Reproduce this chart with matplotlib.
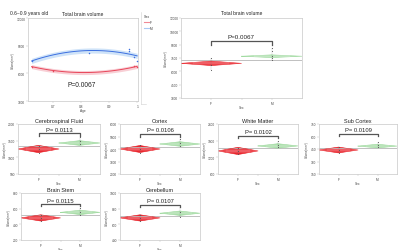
import numpy as np
import matplotlib
matplotlib.use('Agg')
import matplotlib.pyplot as plt
from matplotlib.lines import Line2D

plt.rcParams['font.family'] = ['Liberation Sans', 'DejaVu Sans']

# 나이에 따른 전체 뇌 부피 (산점도)
age_f = [0.625, 0.70, 0.99, 1.0]
vol_f = [6740, 6300, 6780, 6670]
age_m = [0.625, 0.83, 0.97, 0.97, 0.99, 1.0]
vol_m = [7390, 8220, 8650, 8470, 7750, 7390]
band_f = 220
band_m = 280
p_age = 'P=0.0067'

# 성별 전체 뇌 부피
tbv_f_mean = 6900
tbv_m_mean = 7700
tbv_grand = 7300
tbv_f_ci = 250
tbv_m_ci = 150
tbv_f_pts = [7500, 6700, 6200]
tbv_m_pts = [8600, 8300, 7700, 7500, 7300]
tbv_bracket = 9400
p_tbv = 'P=0.0067'

# 영역별 부피
names = ['Cerebrospinal Fluid', 'Cortex', 'White Matter', 'Sub Cortex', 'Brain Stem', 'Cerebellum']
pvals = ['0.0113', '0.0106', '0.0102', '0.0109', '0.0115', '0.0107']
f_mean = [1250, 4000, 1430, 438, 482, 682]
m_mean = [1430, 4400, 1610, 485, 553, 742]
grand = [1340, 4200, 1520, 462, 518, 712]
f_ci = [110, 280, 130, 35, 40, 40]
m_ci = [70, 180, 80, 22, 28, 28]
f_pts = [[1350, 1250, 1120], [4300, 4000, 3650], [1520, 1430, 1330], [470, 440, 405], [520, 482, 440], [720, 680, 640]]
m_pts = [[1620, 1480, 1400], [4800, 4500, 4250], [1800, 1650, 1560], [540, 500, 470], [610, 560, 520], [820, 760, 700]]
bracket_y = [1730, 5200, 1970, 636, 659, 850]
yticks = [[500, 1000, 1500, 2000], [2000, 3000, 4000, 5000, 6000], [600, 1200, 1800, 2400],
          [150, 300, 450, 600, 750], [200, 400, 600, 800], [400, 600, 800, 1000]]

W, H = 400, 251
fig = plt.figure(figsize=(4.0, 2.51), dpi=100)
fig.patch.set_facecolor('white')


def box(x0, y0, x1, y1):
    return [x0 / W, 1 - y1 / H, (x1 - x0) / W, (y1 - y0) / H]


def style(ax):
    for s in ax.spines.values():
        s.set_color('#c8c8c8')
        s.set_linewidth(0.5)
    ax.tick_params(labelsize=2.3, length=1.2, width=0.3, colors='#bbbbbb', labelcolor='#444444', pad=0.8)


def diamonds(ax, fm, mm, fc, mc, gm, fp, mp, by, ptxt, yr, pfs):
    # 평균 다이아몬드
    for cx, m, c, col, a in [(0.5, fm, fc, '#e8131b', 0.9), (1.5, mm, mc, '#8fd48f', 0.8)]:
        xs = [cx - 0.5, cx, cx + 0.5, cx, cx - 0.5]
        ys = [m, m + c, m, m - c, m]
        ax.fill(xs, ys, color=col, alpha=a, lw=0)
        ax.plot(xs, ys, color=col, lw=0.4)
        ax.plot([cx - 0.5, cx + 0.5], [m, m], color='white', lw=0.3, alpha=0.7)
        ax.plot([cx - 0.3, cx + 0.3], [m + c * 0.4, m + c * 0.4], color='white', lw=0.3, alpha=0.6)
        ax.plot([cx - 0.3, cx + 0.3], [m - c * 0.4, m - c * 0.4], color='white', lw=0.3, alpha=0.6)
    ax.axhline(gm, color='#b5b5b5', lw=0.6, zorder=1)
    for cx, pts in [(0.5, fp), (1.5, mp)]:
        ax.plot([cx, cx], [min(pts), max(pts)], color='#666666', lw=0.3, ls=':')
        ax.scatter([cx] * len(pts), pts, s=0.6, color='#555555', zorder=3, lw=0)
    tick = yr * 0.05
    ax.plot([0.5, 0.5, 1.5, 1.5], [by - tick, by, by, by - tick], color='#555555', lw=0.9)
    ax.text(1.0, by + yr * 0.03, ptxt, ha='center', va='bottom', fontsize=pfs, color='#222222')
    ax.set_xlim(0, 2)
    ax.set_xticks([0.5, 1.5])
    ax.set_xticklabels(['F', 'M'])
    ax.set_xticks([1.0], minor=True)
    ax.tick_params(axis='x', which='minor', length=1.2, width=0.3, colors='#bbbbbb')
    ax.set_xlabel('Sex', fontsize=2.3, labelpad=0.5, color='#444444')
    ax.set_ylabel('Volume(mm\u00b3)', fontsize=2.0, labelpad=1, color='#444444')


fig.text(10 / W, 1 - 13 / H, '0.6~0.9 years old', fontsize=3.5, va='center', color='#222222')

# 왼쪽 위: 나이 산점도
ax = fig.add_axes(box(28, 19, 138, 102))
style(ax)
xx = np.linspace(0.625, 1.0, 50)
for a, v, b, lc, bc in [(age_f, vol_f, band_f, '#e8465a', '#f7c3cb'), (age_m, vol_m, band_m, '#3c6fe0', '#c3dcf7')]:
    fit = np.polyval(np.polyfit(a, v, 2), xx)
    ax.fill_between(xx, fit - b, fit + b, color=bc, alpha=0.8, lw=0)
    ax.plot(xx, fit, color=lc, lw=0.7)
    ax.scatter(a, v, s=1.2, color=lc, zorder=3, lw=0)
ax.text(0.49, 0.2, p_age, transform=ax.transAxes, ha='center', va='center', fontsize=4.8, color='#222222')
ax.set_xlim(0.612, 1.003)
ax.set_ylim(3000, 12000)
ax.set_yticks([3000, 6000, 9000, 12000])
ax.set_xticks([0.7, 0.8, 0.9, 1.0])
ax.set_xticklabels(['0.7', '0.8', '0.9', '1'])
ax.set_xlabel('Age', fontsize=2.3, labelpad=0.5, color='#444444')
ax.set_ylabel('Volume(mm\u00b3)', fontsize=2.0, labelpad=1, color='#444444')
ax.set_title('Total brain volume', fontsize=3.6, pad=2, color='#222222')

# 범례
fig.add_artist(Line2D([141 / W, 141 / W], [1 - 13 / H, 1 - 105 / H], color='#d0d0d0', lw=0.4))
fig.add_artist(Line2D([141 / W, 146 / W], [1 - 105 / H, 1 - 105 / H], color='#d0d0d0', lw=0.4))
fig.text(144 / W, 1 - 17 / H, 'Sex', fontsize=2.5, va='center', color='#333333')
for yy, lab, c in [(23, 'F', '#f08a96'), (29, 'M', '#a9c8f3')]:
    fig.add_artist(Line2D([144 / W, 149 / W], [1 - yy / H, 1 - yy / H], color=c, lw=0.8))
    fig.text(150 / W, 1 - yy / H, lab, fontsize=2.3, va='center', color='#333333')

# 오른쪽 위: 성별 전체 뇌 부피
ax = fig.add_axes(box(181, 19, 302, 99))
style(ax)
diamonds(ax, tbv_f_mean, tbv_m_mean, tbv_f_ci, tbv_m_ci, tbv_grand, tbv_f_pts, tbv_m_pts,
         tbv_bracket, p_tbv, 9000, 4.5)
ax.set_ylim(3000, 12000)
ax.set_yticks(np.arange(3000, 12001, 1500))
ax.set_title('Total brain volume', fontsize=3.6, pad=3, color='#222222')

# 아래쪽 패널
boxes = [(18, 125, 100, 175), (120, 125, 200, 175), (218, 125, 298, 175), (319, 125, 397, 175),
         (21, 194, 100, 241), (120, 194, 200, 241)]
for i, name in enumerate(names):
    ax = fig.add_axes(box(*boxes[i]))
    style(ax)
    lo = yticks[i][0]
    hi = yticks[i][-1]
    diamonds(ax, f_mean[i], m_mean[i], f_ci[i], m_ci[i], grand[i], f_pts[i], m_pts[i],
             bracket_y[i], 'P= ' + pvals[i], hi - lo, 4.2)
    ax.set_ylim(lo, hi)
    ax.set_yticks(yticks[i])
    ax.set_title(name, fontsize=4.0, pad=1.5, color='#222222')

fig.savefig('out.png', dpi=100)
